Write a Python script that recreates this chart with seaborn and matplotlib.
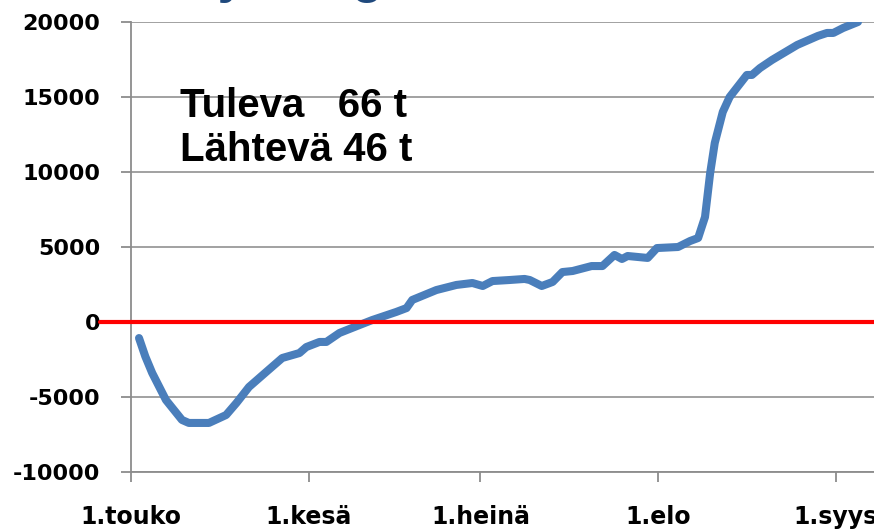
import matplotlib
matplotlib.use("Agg")
import pandas as pd
import matplotlib.pyplot as plt
import seaborn as sns

# days counted from 1 May, cumulative balance (kg)
day = [1.4, 2.5, 3.7, 6.1, 8.9, 10.1, 13.6, 16.6, 18.4, 20.6, 23.6, 26.4, 29.4,
       30.6, 32.9, 34.1, 36.4, 39.9, 42.1, 46.3, 48.1, 49.1, 53.3, 56.8, 59.6,
       61.4, 63.1, 66.1, 68.7, 69.6, 71.7, 73.6, 75.3, 77.1, 80.4, 82.3, 84.4,
       85.7, 86.7, 90.2, 91.8, 95.5, 97.6, 99.0, 100.2, 101.1, 101.9, 103.3,
       104.5, 107.5, 108.4, 109.8, 111.9, 116.3, 119.9, 121.5, 122.6, 124.3, 126.9]
value = [-1070, -2300, -3400, -5200, -6530, -6730, -6730, -6200, -5400, -4330,
         -3330, -2400, -2070, -1670, -1330, -1330, -730, -200, 130, 670, 930,
         1470, 2130, 2470, 2600, 2400, 2730, 2800, 2870, 2800, 2400, 2670, 3330,
         3400, 3730, 3730, 4470, 4200, 4400, 4270, 4930, 5000, 5400, 5600, 7000,
         9930, 11930, 14000, 15000, 16470, 16470, 16930, 17470, 18470, 19070,
         19270, 19270, 19600, 20000]

month_pos = [0, 31, 61, 92, 123]
month_labels = ['1.touko', '1.kesä', '1.heinä', '1.elo', '1.syys']
y_ticks = [-10000, -5000, 0, 5000, 10000, 15000, 20000]

df = pd.DataFrame({'day': day, 'value': value})

sns.set_style('white')
plt.rcParams['font.family'] = ['Liberation Sans', 'DejaVu Sans']

fig = plt.figure(figsize=(8.74, 5.30), dpi=100)
ax = fig.add_axes([131/874, 1 - 472/530, 1 - 131/874, 450/530])

ax.grid(axis='y', color='#9a9a9a', lw=1.3)
ax.set_axisbelow(True)

sns.lineplot(data=df, x='day', y='value', ax=ax, color='#4a7ebb', lw=5.8,
             estimator=None, solid_capstyle='round', zorder=3)
ax.axhline(0, xmin=-31/743, xmax=1, color='#ff0000', lw=3, clip_on=False, zorder=4)

ax.set_xlim(0, 129.7)
ax.set_ylim(-10000, 20000)
ax.set_xticks(month_pos)
ax.set_xticklabels(month_labels)
ax.set_yticks(y_ticks)
ax.set_yticklabels([str(v) for v in y_ticks])
ax.set_xlabel('')
ax.set_ylabel('')

for s in ['top', 'right']:
    ax.spines[s].set_visible(False)
for s in ['left', 'bottom']:
    ax.spines[s].set_color('#8c8c8c')
    ax.spines[s].set_linewidth(1.3)

ax.tick_params(axis='y', left=True, length=7, width=1.3, color='#8c8c8c', pad=15,
               labelsize=16, labelcolor='black')
ax.tick_params(axis='x', bottom=True, length=7, width=1.3, color='#8c8c8c', pad=17,
               labelsize=17, labelcolor='black')
for lab in ax.get_xticklabels() + ax.get_yticklabels():
    lab.set_fontweight('bold')
    lab.set_family('DejaVu Sans')

ax.text(0.066, 0.855, 'Tuleva   66 t\nLähtevä 46 t', transform=ax.transAxes,
        fontsize=29, fontweight='bold', va='top', ha='left', linespacing=1.2,
        color='black')

# title, mostly cut off at the top edge
fig.text(90/874, 1 + 8/530, 'Tase yht. kg', fontsize=37,
         fontweight='bold', color='#1f497d', va='baseline', ha='left')

fig.savefig('out.png', dpi=100)
